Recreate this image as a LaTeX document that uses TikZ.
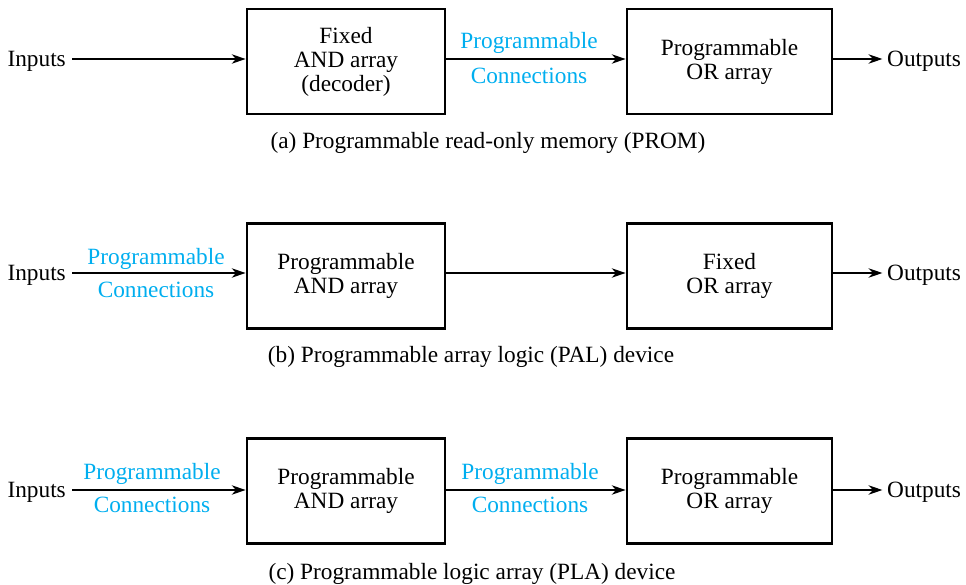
\documentclass[tikz,border=0pt]{standalone}
\usepackage{fontspec}
\setmainfont{Liberation Serif}
\usetikzlibrary{arrows.meta}
\definecolor{prog}{RGB}{0,174,239}
\begin{document}
\begin{tikzpicture}[x=1pt,y=-1pt,
  font=\fontsize{23.3}{24}\selectfont,
  blk/.style={draw, line width=2.8pt, minimum width=198pt, minimum height=105pt, align=center, inner sep=0pt},
  blkw/.style={blk, minimum width=205pt},
  conn/.style={line width=1.3pt, -{Stealth[length=14pt,width=9.5pt]}},
  lab/.style={text=prog, inner sep=0pt, yshift=-2pt},
  txt/.style={inner sep=0pt, yshift=-2pt}]
\useasboundingbox (0,0) rectangle (966,585);
% (a)
\node[blk]  (a1) at (346,61.5) {Fixed\\AND array\\(decoder)};
\node[blkw] (a2) at (729.5,61.5) {Programmable\\OR array};
\node[txt, anchor=east] (ain) at (66,59) {Inputs};
\node[txt, anchor=west] (aout) at (887,59) {Outputs};
\draw[conn] (72,59) -- (a1.west |- 0,59);
\draw[conn] (a1.east |- 0,59) -- (a2.west |- 0,59);
\draw[conn] (a2.east |- 0,59) -- ++(49,0);
\node[lab] (ap) at (529,41) {Programmable};
\node[lab] (ac) at (529,74) {Connections};
\node[txt] (acap) at (488,141) {(a) Programmable read-only memory (PROM)};
% (b)
\node[blk]  (b1) at (346,276) {Programmable\\AND array};
\node[blkw] (b2) at (729.5,276) {Fixed\\OR array};
\node[txt, anchor=east] (bin) at (66,273) {Inputs};
\node[txt, anchor=west] (bout) at (887,273) {Outputs};
\draw[conn] (72,273) -- (b1.west |- 0,273);
\draw[conn] (b1.east |- 0,273) -- (b2.west |- 0,273);
\draw[conn] (b2.east |- 0,273) -- ++(49,0);
\node[lab] (bp) at (156,257) {Programmable};
\node[lab] (bc) at (156,288) {Connections};
\node[txt] (bcap) at (471,355) {(b) Programmable array logic (PAL) device};
% (c)
\node[blk]  (c1) at (346,491) {Programmable\\AND array};
\node[blkw] (c2) at (729.5,491) {Programmable\\OR array};
\node[txt, anchor=east] (cin) at (66,490) {Inputs};
\node[txt, anchor=west] (cout) at (887,490) {Outputs};
\draw[conn] (72,490) -- (c1.west |- 0,490);
\draw[conn] (c1.east |- 0,490) -- (c2.west |- 0,490);
\draw[conn] (c2.east |- 0,490) -- ++(49,0);
\node[lab] (cp1) at (152,472) {Programmable};
\node[lab] (cc1) at (152,503) {Connections};
\node[lab] (cp2) at (530,472) {Programmable};
\node[lab] (cc2) at (530,503) {Connections};
\node[txt] (ccap) at (472,572) {(c) Programmable logic array (PLA) device};
\end{tikzpicture}
\end{document}
